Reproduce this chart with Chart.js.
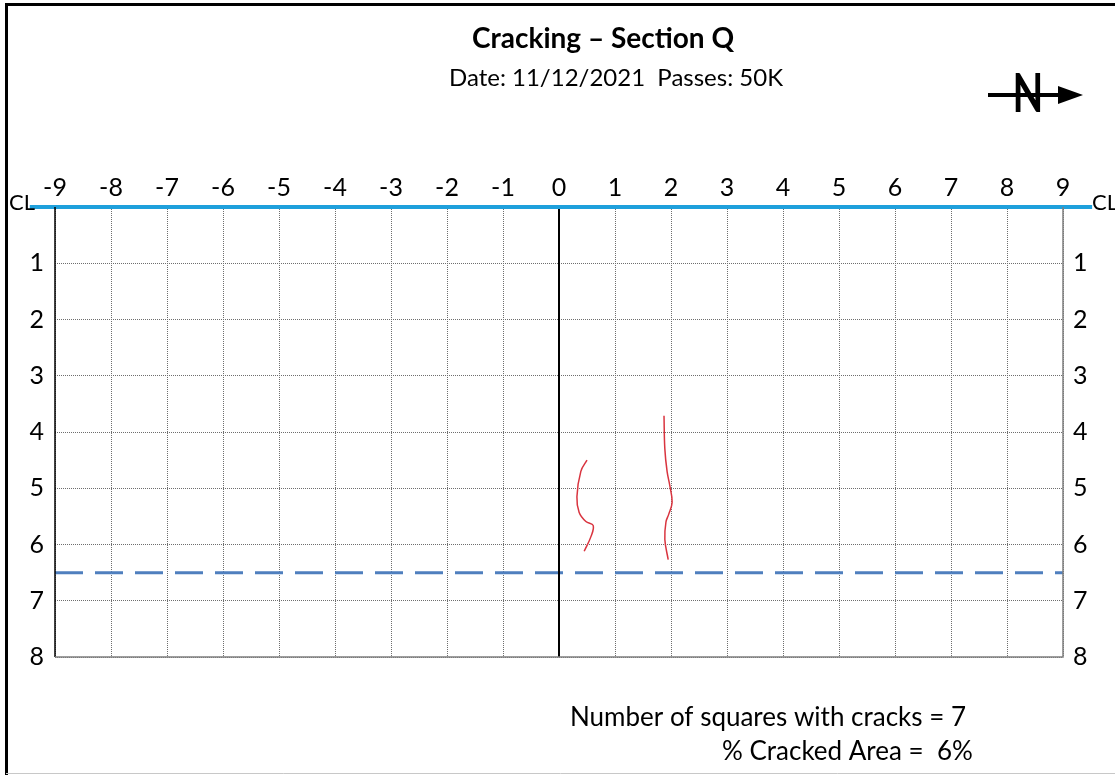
<!DOCTYPE html>
<html>
<head>
<meta charset="utf-8">
<script src="https://cdn.jsdelivr.net/npm/chart.js@4/dist/chart.umd.min.js"></script>
<style>
  body { margin: 0; background: #fff; }
  #wrap { width: 1115px; height: 775px; position: relative; }
</style>
</head>
<body>
<div id="wrap"><canvas id="myChart" width="1115" height="775"></canvas></div>
<script>
// grid extents (offset from centre line, depth below CL)
const xTicks = [-9, -8, -7, -6, -5, -4, -3, -2, -1, 0, 1, 2, 3, 4, 5, 6, 7, 8, 9];
const yTicks = [0, 1, 2, 3, 4, 5, 6, 7, 8];

// hand-traced cracks
const crack1X = [0.5, 0.39, 0.32, 0.36, 0.48, 0.61, 0.57, 0.45];
const crack1Y = [4.5, 4.7, 5.15, 5.43, 5.59, 5.66, 5.86, 6.12];
const crack2X = [1.875, 1.89, 1.93, 1.98, 2.02, 1.96, 1.91, 1.89, 1.95];
const crack2Y = [3.71, 4.3, 4.7, 4.96, 5.25, 5.46, 5.6, 5.91, 6.27];

// reference lines
const wheelPathY = 6.5;
const clLineX = [-9.45, 9.52];

const titleText = "Cracking \u2013 Section Q";
const subtitleText = "Date: 11/12/2021  Passes: 50K";
const note1 = "Number of squares with cracks = 7";
const note2 = "% Cracked Area =  6%";

const FONT = "Lato, 'Open Sans', sans-serif";

function toPoints(xs, ys) {
  return xs.map((x, i) => ({ x: x, y: ys[i] }));
}

const extrasPlugin = {
  id: "extras",
  beforeDraw(chart) {
    const ctx = chart.ctx;
    ctx.save();
    ctx.fillStyle = "#fff";
    ctx.fillRect(0, 0, chart.width, chart.height);
    ctx.restore();
  },
  afterDraw(chart) {
    const ctx = chart.ctx;
    const area = chart.chartArea;
    const yS = chart.scales.y;
    ctx.save();

    // plot frame (left solid black, right/bottom grey)
    ctx.lineWidth = 1.5;
    ctx.strokeStyle = "#000";
    ctx.beginPath();
    ctx.moveTo(area.left, area.top);
    ctx.lineTo(area.left, area.bottom);
    ctx.stroke();
    ctx.strokeStyle = "#7f7f7f";
    ctx.beginPath();
    ctx.moveTo(area.left, area.bottom);
    ctx.lineTo(area.right, area.bottom);
    ctx.lineTo(area.right, area.top);
    ctx.stroke();

    // picture border
    ctx.strokeStyle = "#000";
    ctx.lineWidth = 3;
    ctx.beginPath();
    ctx.moveTo(6.5, 775);
    ctx.lineTo(6.5, 4.5);
    ctx.lineTo(1115, 4.5);
    ctx.stroke();
    ctx.strokeStyle = "#c8c8c8";
    ctx.lineWidth = 1;
    ctx.beginPath();
    ctx.moveTo(6, 773.5);
    ctx.lineTo(1115, 773.5);
    ctx.stroke();

    // CL labels
    const yCL = yS.getPixelForValue(0);
    ctx.fillStyle = "#000";
    ctx.font = "22px " + FONT;
    ctx.textBaseline = "alphabetic";
    ctx.textAlign = "left";
    ctx.fillText("CL", 9, yCL + 3);
    ctx.fillText("CL", 1092, yCL + 3);

    // titles
    ctx.textAlign = "center";
    ctx.font = "bold 28px " + FONT;
    ctx.fillText(titleText, 603, 48);
    ctx.font = "24px " + FONT;
    ctx.fillText(subtitleText, 616, 86);

    // north arrow (tall narrow N)
    ctx.save();
    ctx.translate(1028, 112);
    ctx.scale(1, 1.35);
    ctx.font = "bold 40px " + FONT;
    ctx.fillText("N", 0, 0);
    ctx.restore();
    ctx.strokeStyle = "#000";
    ctx.lineWidth = 4;
    ctx.beginPath();
    ctx.moveTo(988, 95);
    ctx.lineTo(1062, 95);
    ctx.stroke();
    ctx.beginPath();
    ctx.moveTo(1058, 86);
    ctx.lineTo(1083, 95);
    ctx.lineTo(1058, 104);
    ctx.closePath();
    ctx.fill();

    // notes
    ctx.textAlign = "left";
    ctx.font = "26px " + FONT;
    ctx.fillText(note1, 570, 726);
    ctx.fillText(note2, 722, 760);

    ctx.restore();
  }
};

new Chart(document.getElementById("myChart"), {
  type: "line",
  data: {
    datasets: [
      {
        label: "CL",
        data: toPoints(clLineX, [0, 0]),
        borderColor: "#1ea0dc",
        borderWidth: 4,
        pointRadius: 0,
        clip: false,
        order: 1
      },
      {
        label: "Centre",
        data: toPoints([0, 0], [0, 8]),
        borderColor: "#000",
        borderWidth: 2,
        pointRadius: 0,
        order: 2
      },
      {
        label: "Wheel path",
        data: toPoints([-9, 9], [wheelPathY, wheelPathY]),
        borderColor: "#4f7fbe",
        borderWidth: 3,
        borderDash: [28, 12],
        pointRadius: 0,
        order: 3
      },
      {
        label: "Crack 1",
        data: toPoints(crack1X, crack1Y),
        borderColor: "#d9343f",
        borderWidth: 1.5,
        tension: 0.4,
        pointRadius: 0,
        order: 4
      },
      {
        label: "Crack 2",
        data: toPoints(crack2X, crack2Y),
        borderColor: "#d9343f",
        borderWidth: 1.5,
        tension: 0.4,
        pointRadius: 0,
        order: 5
      }
    ]
  },
  options: {
    responsive: false,
    animation: false,
    events: [],
    layout: { padding: { left: 0, right: 0, top: 0, bottom: 118 } },
    plugins: { legend: { display: false }, tooltip: { enabled: false } },
    scales: {
      x: {
        type: "linear",
        position: "top",
        min: -9,
        max: 9,
        afterFit: (s) => { s.height = 207; },
        afterBuildTicks: (s) => { s.ticks = xTicks.map((v) => ({ value: v })); },
        ticks: {
          autoSkip: false,
          maxRotation: 0,
          padding: 4,
          color: "#000",
          font: { family: FONT, size: 25 }
        },
        grid: { color: "#6e6e6e", lineWidth: 1, drawTicks: false },
        border: { display: false, dash: [1, 1] }
      },
      y: {
        type: "linear",
        position: "left",
        reverse: true,
        min: 0,
        max: 8,
        afterFit: (s) => { s.width = 55; },
        afterBuildTicks: (s) => { s.ticks = yTicks.map((v) => ({ value: v })); },
        ticks: {
          padding: 11,
          color: "#000",
          font: { family: FONT, size: 25 },
          callback: (v) => (v === 0 ? "" : v)
        },
        grid: { color: "#6e6e6e", lineWidth: 1, drawTicks: false },
        border: { display: false, dash: [1, 1] }
      },
      y2: {
        type: "linear",
        position: "right",
        reverse: true,
        min: 0,
        max: 8,
        afterFit: (s) => { s.width = 52; },
        afterBuildTicks: (s) => { s.ticks = yTicks.map((v) => ({ value: v })); },
        ticks: {
          padding: 10,
          color: "#000",
          font: { family: FONT, size: 25 },
          callback: (v) => (v === 0 ? "" : v)
        },
        grid: { display: false, drawTicks: false },
        border: { display: false }
      }
    }
  },
  plugins: [extrasPlugin]
});
</script>
</body>
</html>
